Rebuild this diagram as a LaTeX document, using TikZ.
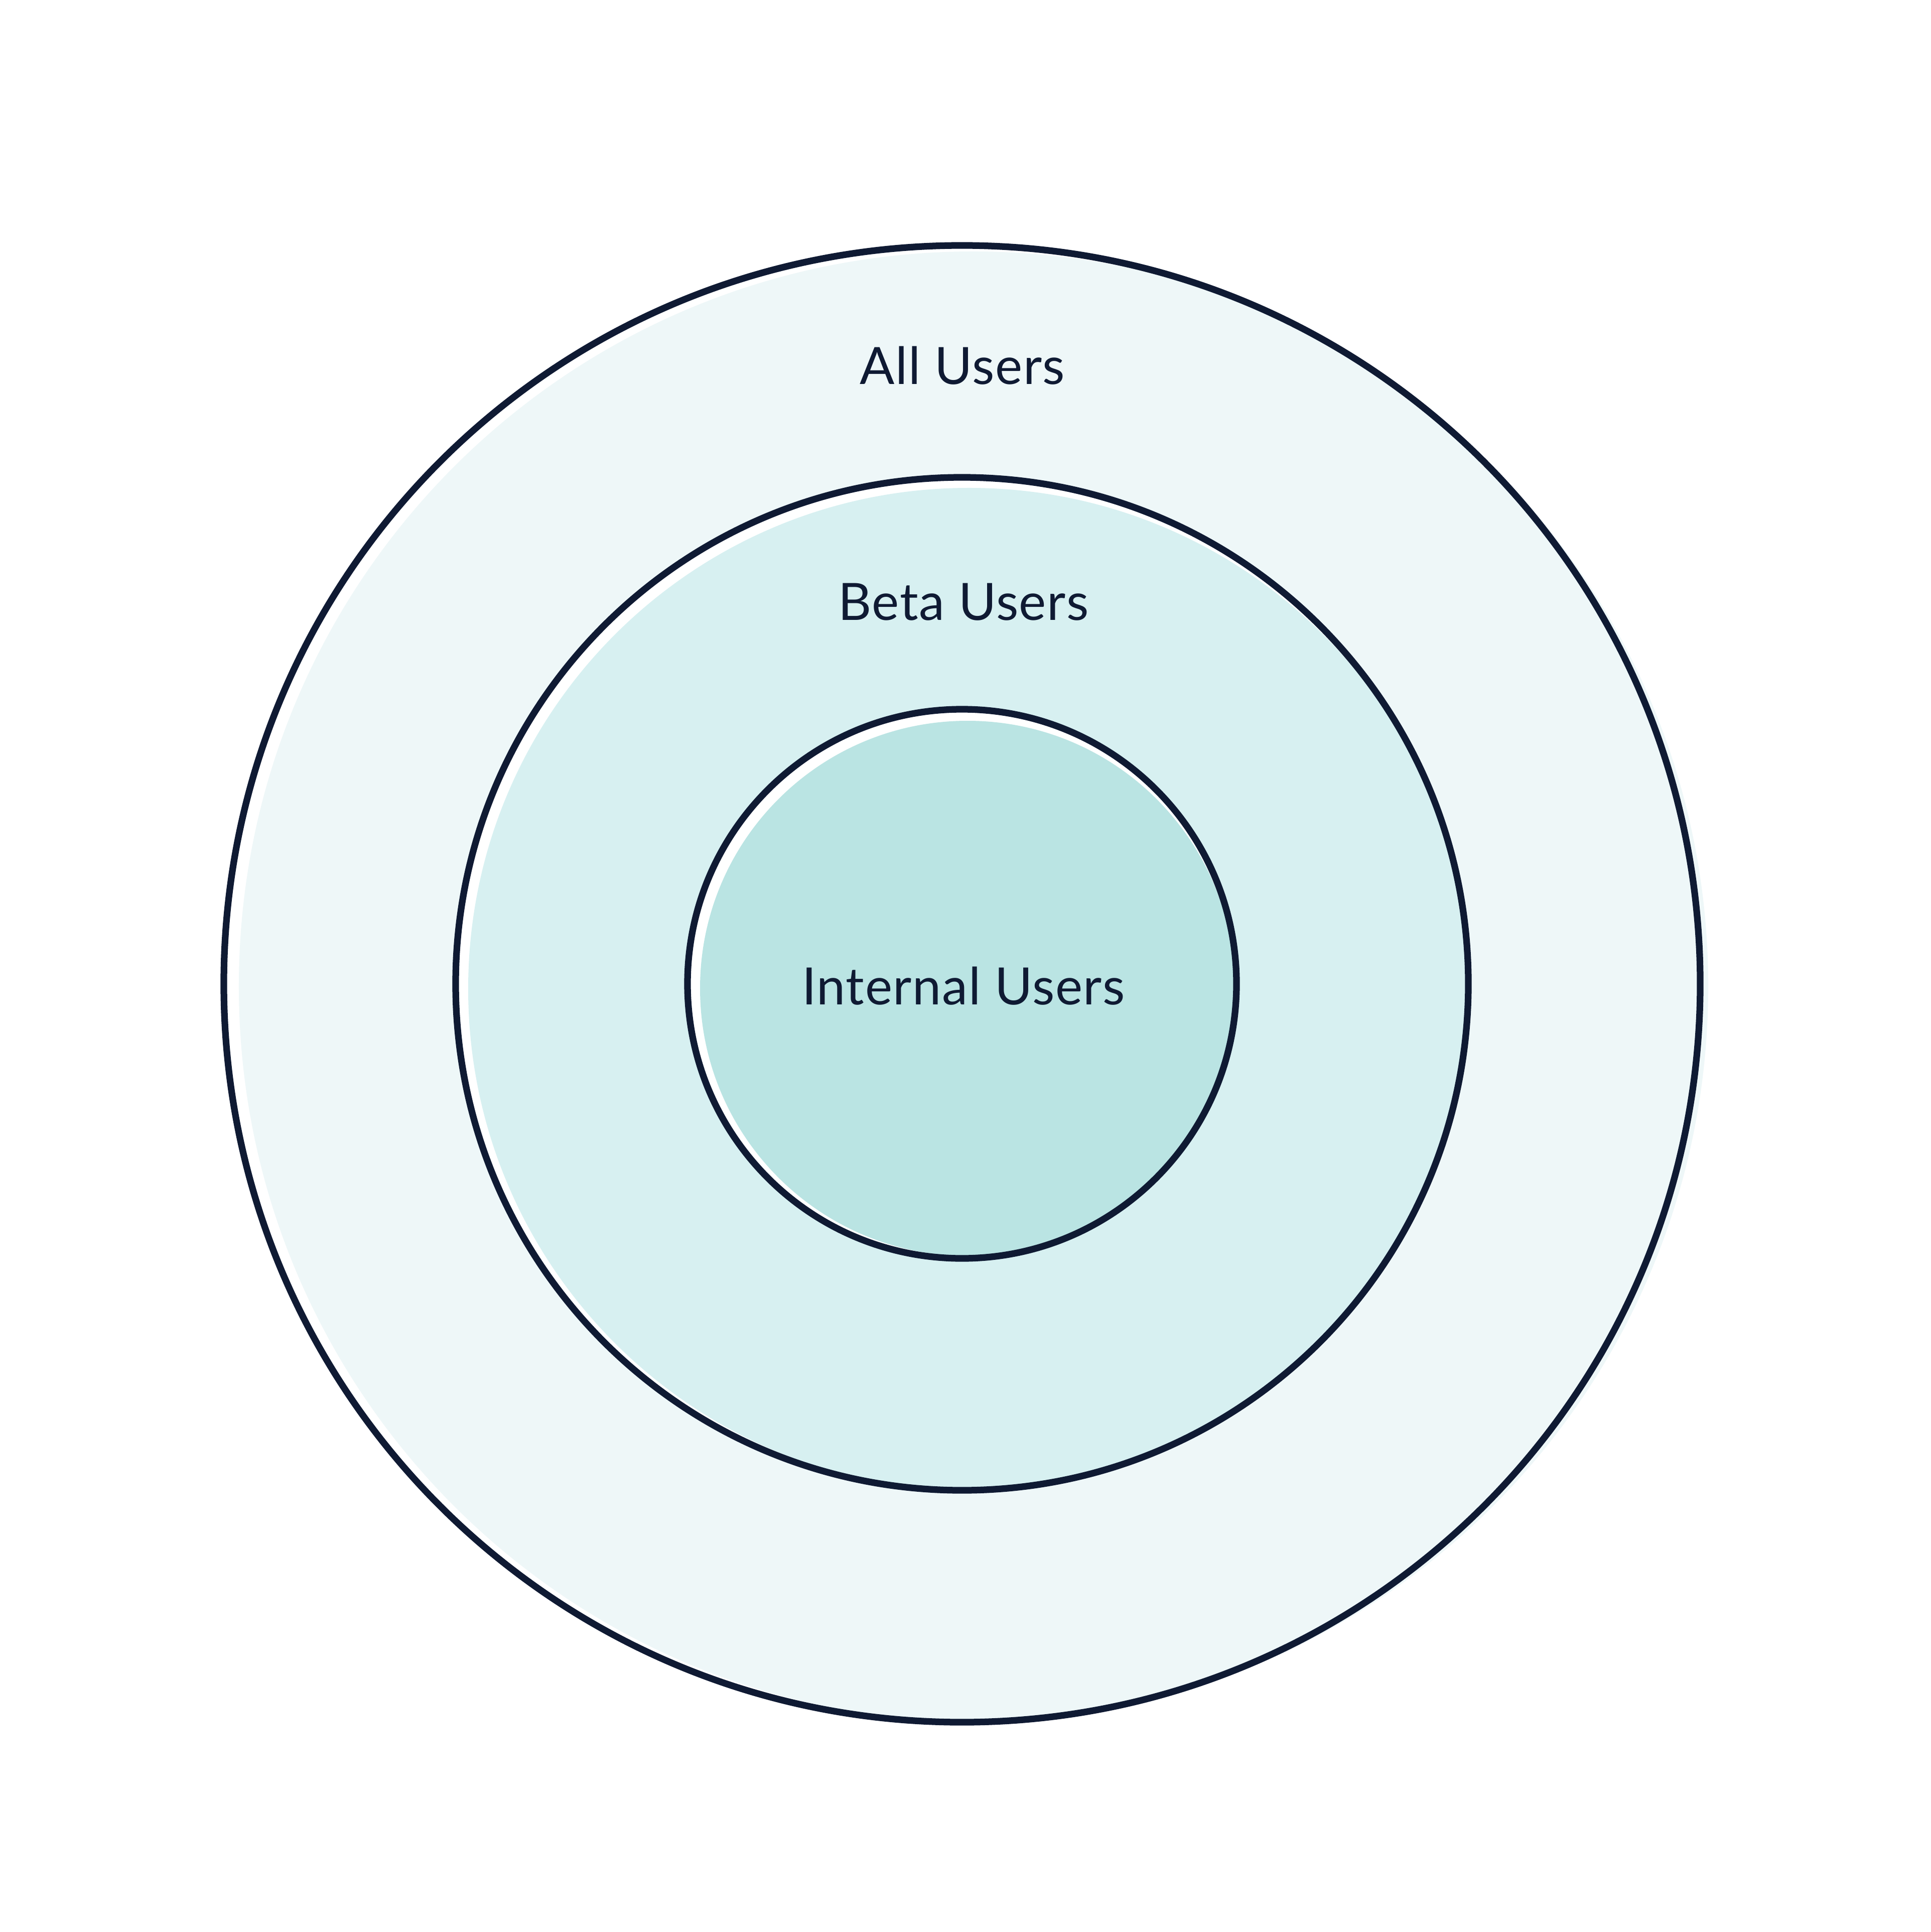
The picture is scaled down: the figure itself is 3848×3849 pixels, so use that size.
\documentclass[tikz,border=0pt]{standalone}
\usepackage{fontspec}
\setmainfont[LetterSpace=1.6]{Lato}
\definecolor{ink}{HTML}{0F1A33}
\definecolor{fillA}{HTML}{EEF7F8}
\definecolor{fillB}{HTML}{D7F0F1}
\definecolor{fillC}{HTML}{BAE4E3}
\tikzset{
  ring/.style={draw=ink, line width=2.65pt},
  label/.style={text=ink, font=\fontsize{20.5}{24}\selectfont, inner sep=0pt, anchor=base},
}
\begin{document}
\begin{tikzpicture}[x=0.2pt,y=-0.2pt]
\useasboundingbox[fill=white] (0,0) rectangle (3848,3849);
% outer
\fill[white] (1917,1960) circle[radius=294.2pt];
\fill[fillA] (1940,1965) circle[radius=292.8pt];
\draw[ring] (1917,1960) circle[radius=294.2pt];
% middle
\fill[white] (1917,1960) circle[radius=201.8pt];
\fill[fillB] (1931,1970) circle[radius=199.6pt];
\draw[ring] (1917,1960) circle[radius=201.8pt];
% inner
\fill[white] (1917,1960) circle[radius=109.4pt];
\fill[fillC] (1928,1969) circle[radius=106.6pt];
\draw[ring] (1917,1960) circle[radius=109.4pt];
% labels
\node[label] (all) at (1918,765) {All Users};
\node[label] (beta) at (1920,1235) {Beta Users};
\node[label] (internal) at (1920,2001) {Internal Users};
\end{tikzpicture}
\end{document}
